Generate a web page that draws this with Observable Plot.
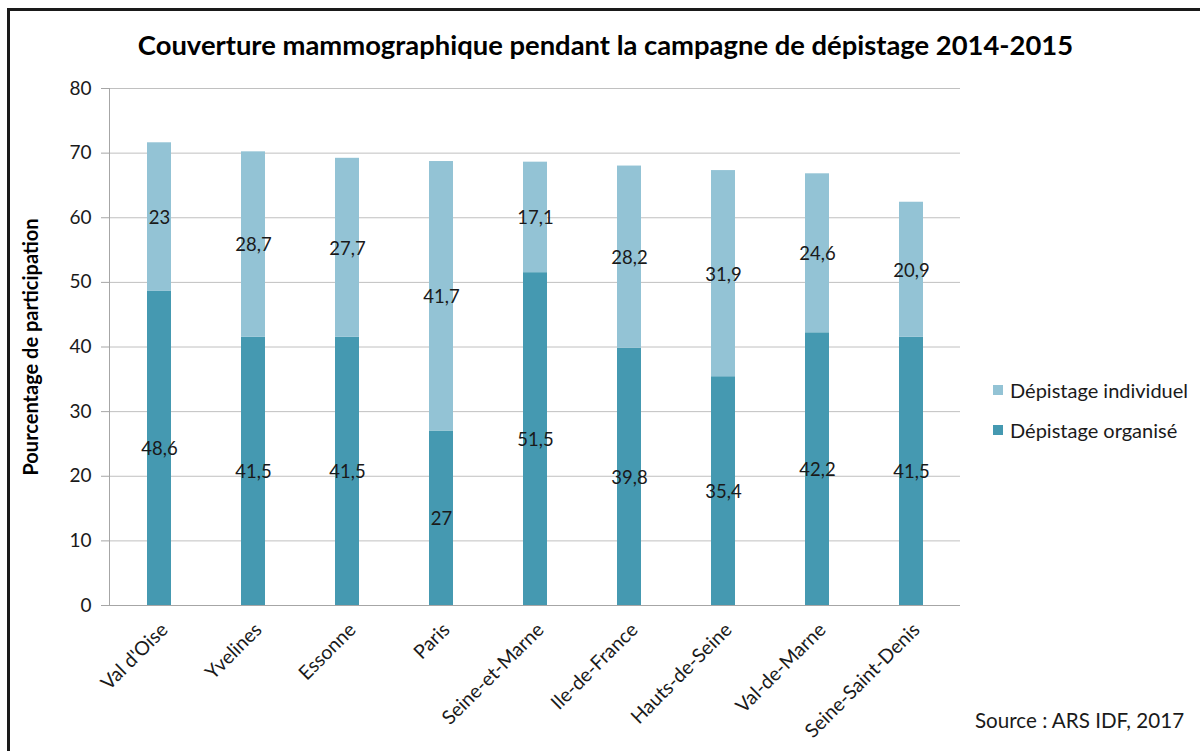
<!DOCTYPE html>
<html>
<head>
<meta charset="utf-8">
<script src="https://cdn.jsdelivr.net/npm/d3@7"></script>
<script src="https://cdn.jsdelivr.net/npm/@observablehq/plot@0.6"></script>
<style>
  html, body { margin: 0; padding: 0; background: #fff; }
  #wrap { position: relative; width: 1200px; height: 751px; overflow: hidden; font-family: Lato, "Open Sans", sans-serif; color: #000; }
  #border { position: absolute; left: 7px; top: 8px; width: 1300px; height: 900px; border-left: 3px solid #1a1a1a; border-top: 3px solid #1a1a1a; box-sizing: border-box; }
  #title { position: absolute; left: 0; width: 1211px; top: 26px; text-align: center; font-weight: bold; font-size: 27.4px; line-height: 38px; }
  #legend { position: absolute; left: 993px; top: 376px; font-size: 20px; color: #1a1a1a; }
  .li { display: flex; align-items: center; height: 28px; margin-bottom: 12px; }
  .sw { width: 10px; height: 10px; margin-right: 7px; }
  #source { position: absolute; left: 975px; top: 708px; font-size: 20.6px; color: #1a1a1a; }
  #chart { position: absolute; left: 0; top: 0; }
</style>
</head>
<body>
<div id="wrap">
  <div id="chart"></div>
  <div id="border"></div>
  <div id="title">Couverture mammographique pendant la campagne de dépistage 2014-2015</div>
  <div id="legend"></div>
  <div id="source">Source : ARS IDF, 2017</div>
</div>
<script>
const categories = ["Val d'Oise", "Yvelines", "Essonne", "Paris", "Seine-et-Marne", "Ile-de-France", "Hauts-de-Seine", "Val-de-Marne", "Seine-Saint-Denis"];
const organise = [48.6, 41.5, 41.5, 27, 51.5, 39.8, 35.4, 42.2, 41.5];
const individuel = [23, 28.7, 27.7, 41.7, 17.1, 28.2, 31.9, 24.6, 20.9];
const seriesNames = ["Dépistage organisé", "Dépistage individuel"];
const seriesColors = ["#4599b1", "#93c3d5"];
const yTicks = [0, 10, 20, 30, 40, 50, 60, 70, 80];
const yLabel = "Pourcentage de participation";

const rows = [];
categories.forEach((c, i) => {
  rows.push({cat: c, series: seriesNames[0], value: organise[i]});
  rows.push({cat: c, series: seriesNames[1], value: individuel[i]});
});
const fmt = v => String(v).replace(".", ",");

const plot = Plot.plot({
  width: 1200,
  height: 751,
  marginLeft: 109,
  marginRight: 240,
  marginTop: 88,
  marginBottom: 146,
  style: {fontFamily: "Lato, 'Open Sans', sans-serif", background: "transparent", overflow: "visible"},
  x: {domain: categories, paddingInner: 0.745, paddingOuter: 0.3725, align: 0.5, axis: null},
  y: {domain: [0, 80], ticks: yTicks, axis: null},
  color: {domain: seriesNames, range: seriesColors},
  marks: [
    Plot.gridY(yTicks, {stroke: "#c0c0c0", strokeOpacity: 1, strokeWidth: 1}),
    Plot.axisY(yTicks, {tickSize: 8, stroke: "#a6a6a6", strokeOpacity: 1, tickPadding: 10, fontSize: 19, fill: "#1a1a1a", label: null}),
    Plot.frame({anchor: "left", stroke: "#a6a6a6"}),
    Plot.barY(rows, Plot.stackY({x: "cat", y: "value", fill: "series", order: seriesNames})),
    Plot.ruleY([0], {stroke: "#a6a6a6"}),
    Plot.text(rows, Plot.stackY({x: "cat", y: "value", z: "series", order: seriesNames, text: d => fmt(d.value), fontSize: 18.5, fill: "#1a1a1a", dy: 1})),
    Plot.text(categories, {x: d => d, frameAnchor: "bottom", text: d => d, rotate: -45, textAnchor: "end", lineAnchor: "middle", fontSize: 19.5, fill: "#1a1a1a", dx: 5, dy: 21}),
    Plot.text([yLabel], {frameAnchor: "left", text: d => d, rotate: -90, textAnchor: "middle", dx: -78, fontWeight: "bold", fontSize: 20, fill: "#000"})
  ]
});
document.getElementById("chart").appendChild(plot);

const legend = document.getElementById("legend");
[1, 0].forEach(i => {
  const li = document.createElement("div");
  li.className = "li";
  li.innerHTML = `<span class="sw" style="background:${seriesColors[i]}"></span><span>${seriesNames[i]}</span>`;
  legend.appendChild(li);
});
</script>
</body>
</html>
